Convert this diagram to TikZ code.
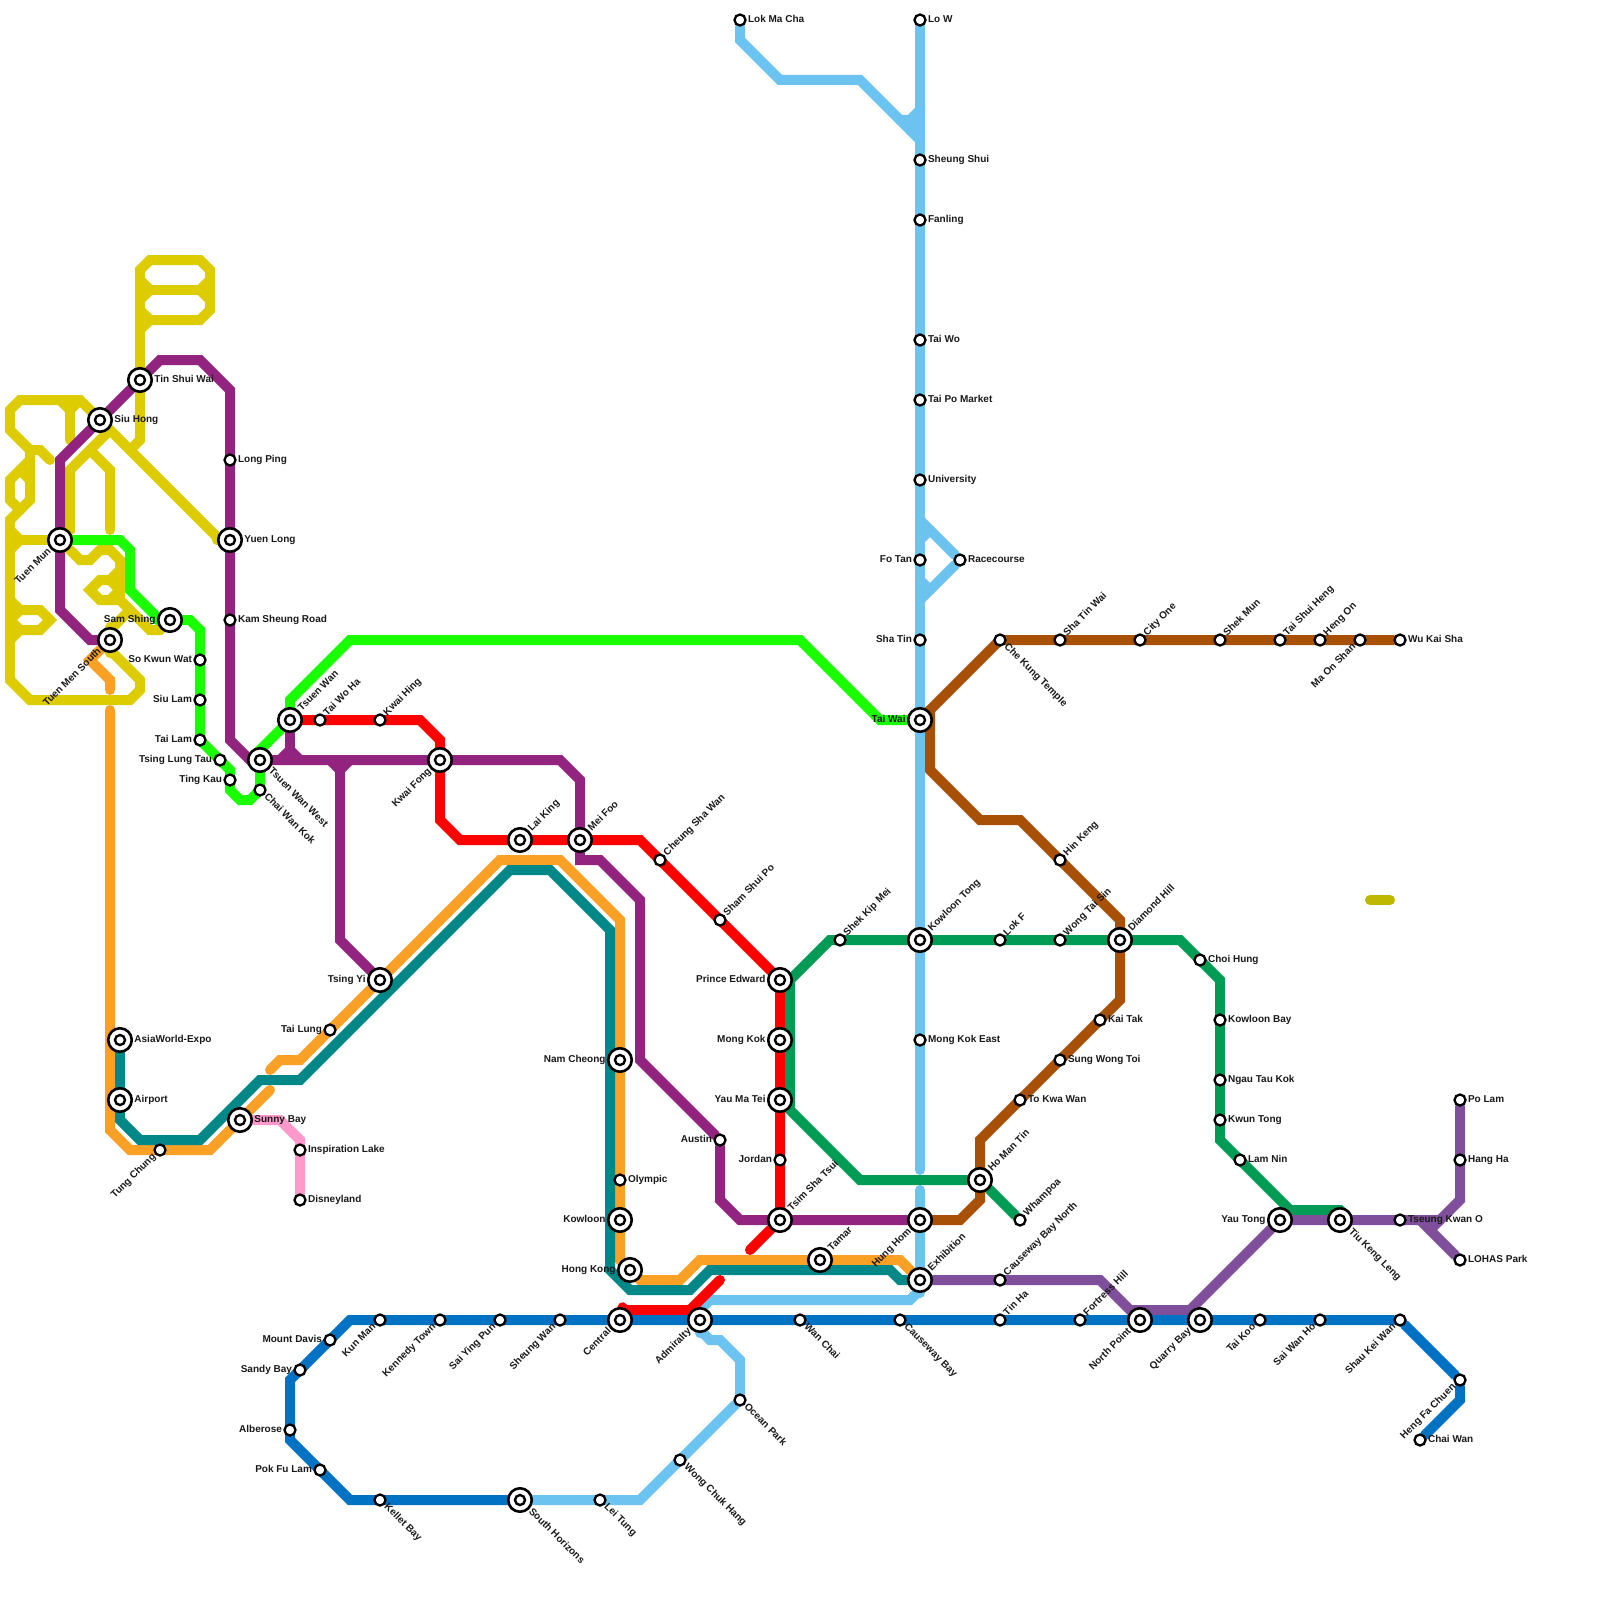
\documentclass[tikz,border=0pt]{standalone}
\usepackage{fontspec}
\setmainfont{Liberation Sans}
\usetikzlibrary{backgrounds}
\definecolor{lnYellow}{HTML}{DDCC00}
\definecolor{lnGreen}{HTML}{1AFF00}
\definecolor{lnPurple}{HTML}{92237E}
\definecolor{lnRed}{HTML}{FF0000}
\definecolor{lnOrange}{HTML}{FAA025}
\definecolor{lnTeal}{HTML}{008888}
\definecolor{lnSky}{HTML}{6CC3F0}
\definecolor{lnBlue}{HTML}{0072C3}
\definecolor{lnPink}{HTML}{FF99CC}
\definecolor{lnKwun}{HTML}{009B55}
\definecolor{lnBrown}{HTML}{A85006}
\definecolor{lnTko}{HTML}{7F4F9B}
\definecolor{lnOlive}{HTML}{BFB800}

\begin{document}
\begin{tikzpicture}[
  x=1pt, y=-1pt,
  mline/.style={line width=10pt, line cap=round, line join=miter},
  stop/.style={circle, draw=black, fill=white, line width=2.3pt, minimum size=11pt, inner sep=0pt},
  hub/.style={circle, draw=black, fill=white, line width=2.6pt, minimum size=23.5pt, inner sep=0pt, path picture={\draw[line width=2.4pt] (path picture bounding box.center) circle (5pt);}},
  lbl/.style={font=\fontsize{10}{12}\selectfont\bfseries, text=black!90, inner sep=1.2pt, text height=7.2pt, text depth=2.2pt},
  lbE/.style={label={[lbl]0:#1}},
  lbW/.style={label={[lbl]180:#1}},
  lbNE/.style={label={[lbl, rotate=45, anchor=west]45:#1}},
  lbSE/.style={label={[lbl, rotate=-45, anchor=west]-45:#1}},
  lbSW/.style={label={[lbl, rotate=45, anchor=east]225:#1}}
]
\useasboundingbox (0,0) rectangle (1600,1600);

\node[hub, lbSW=Tuen Mun] (tuenMun) at (60,540) {};
\node[hub, lbSW=Tuen Men South] (tuenMenSouth) at (110,640) {};
\node[hub, lbE=Siu Hong] (siuHong) at (100,420) {};
\node[hub, lbE=Tin Shui Wai] (tinShuiWai) at (140,380) {};
\node[stop, lbE=Long Ping] (longPing) at (230,460) {};
\node[hub, lbE=Yuen Long] (yuenLong) at (230,540) {};
\node[stop, lbE=Kam Sheung Road] (kamSheung) at (230,620) {};
\node[hub, lbW=Sam Shing] (samShing) at (170,620) {};
\node[stop, lbW=So Kwun Wat] (soKwunWat) at (200,660) {};
\node[stop, lbW=Siu Lam] (siuLam) at (200,700) {};
\node[stop, lbW=Tai Lam] (taiLam) at (200,740) {};
\node[stop, lbW=Tsing Lung Tau] (tsingLungTau) at (220,760) {};
\node[stop, lbW=Ting Kau] (tingKau) at (230,780) {};
\node[stop, lbSE=Chai Wan Kok] (chaiWanKok) at (260,790) {};
\node[hub, lbSE=Tsuen Wan West] (tsuenWanWest) at (260,760) {};
\node[hub, lbNE=Tsuen Wan] (tsuenWan) at (290,720) {};
\node[stop, lbNE=Tai Wo Ha] (taiWoHa) at (320,720) {};
\node[stop, lbNE=Kwai Hing] (kwaiHing) at (380,720) {};
\node[hub, lbSW=Kwai Fong] (kwaiFong) at (440,760) {};
\node[hub, lbNE=Lai King] (laiKing) at (520,840) {};
\node[hub, lbNE=Mei Foo] (meiFoo) at (580,840) {};
\node[stop, lbNE=Cheung Sha Wan] (cheungShaWan) at (660,860) {};
\node[stop, lbNE=Sham Shui Po] (shamShuiPo) at (720,920) {};
\node[hub, lbW=Tsing Yi] (tsingYi) at (380,980) {};
\node[stop, lbW=Tai Lung] (taiLung) at (330,1030) {};
\node[hub, lbE=AsiaWorld-Expo] (asiaWorld) at (120,1040) {};
\node[hub, lbE=Airport] (airport) at (120,1100) {};
\node[stop, lbSW=Tung Chung] (tungChung) at (160,1150) {};
\node[hub, lbE=Sunny Bay] (sunnyBay) at (240,1120) {};
\node[stop, lbE=Inspiration Lake] (inspiration) at (300,1150) {};
\node[stop, lbE=Disneyland] (disneyland) at (300,1200) {};
\node[hub, lbW=Nam Cheong] (namCheong) at (620,1060) {};
\node[stop, lbE=Olympic] (olympic) at (620,1180) {};
\node[hub, lbW=Kowloon] (kowloon) at (620,1220) {};
\node[hub, lbW=Hong Kong] (hongKong) at (630,1270) {};
\node[stop, lbW=Austin] (austin) at (720,1140) {};
\node[hub, lbW=Prince Edward] (princeEdward) at (780,980) {};
\node[hub, lbW=Mong Kok] (mongKok) at (780,1040) {};
\node[hub, lbW=Yau Ma Tei] (yauMaTei) at (780,1100) {};
\node[stop, lbW=Jordan] (jordan) at (780,1160) {};
\node[hub, lbNE=Tsim Sha Tsui] (tsimShaTsui) at (780,1220) {};
\node[hub, lbNE=Tamar] (tamar) at (820,1260) {};
\node[stop, lbNE=Shek Kip Mei] (shekKipMei) at (840,940) {};

\node[stop, lbE=Lok Ma Cha] (lokMaCha) at (740,20) {};
\node[stop, lbE=Lo W] (loW) at (920,20) {};
\node[stop, lbE=Sheung Shui] (sheungShui) at (920,160) {};
\node[stop, lbE=Fanling] (fanling) at (920,220) {};
\node[stop, lbE=Tai Wo] (taiWo) at (920,340) {};
\node[stop, lbE=Tai Po Market] (taiPoMarket) at (920,400) {};
\node[stop, lbE=University] (university) at (920,480) {};
\node[stop, lbW=Fo Tan] (foTan) at (920,560) {};
\node[stop, lbE=Racecourse] (racecourse) at (960,560) {};
\node[stop, lbW=Sha Tin] (shaTin) at (920,640) {};
\node[hub, lbW=Tai Wai] (taiWai) at (920,720) {};
\node[hub, lbNE=Kowloon Tong] (kowloonTong) at (920,940) {};
\node[stop, lbE=Mong Kok East] (mongKokEast) at (920,1040) {};
\node[hub, lbSW=Hung Hom] (hungHom) at (920,1220) {};
\node[hub, lbNE=Exhibition] (exhibition) at (920,1280) {};

\node[stop, lbSE=Che Kung Temple] (cheKung) at (1000,640) {};
\node[stop, lbNE=Sha Tin Wai] (shaTinWai) at (1060,640) {};
\node[stop, lbNE=City One] (cityOne) at (1140,640) {};
\node[stop, lbNE=Shek Mun] (shekMun) at (1220,640) {};
\node[stop, lbNE=Tai Shui Heng] (taiShuiHeng) at (1280,640) {};
\node[stop, lbNE=Heng On] (hengOn) at (1320,640) {};
\node[stop, lbSW=Ma On Shan] (maOnShan) at (1360,640) {};
\node[stop, lbE=Wu Kai Sha] (wuKaiSha) at (1400,640) {};
\node[stop, lbNE=Hin Keng] (hinKeng) at (1060,860) {};
\node[stop, lbNE=Lok F] (lokF) at (1000,940) {};
\node[stop, lbNE=Wong Tai Sin] (wongTaiSin) at (1060,940) {};
\node[hub, lbNE=Diamond Hill] (diamondHill) at (1120,940) {};
\node[stop, lbE=Choi Hung] (choiHung) at (1200,960) {};
\node[stop, lbE=Kowloon Bay] (kowloonBay) at (1220,1020) {};
\node[stop, lbE=Ngau Tau Kok] (ngauTauKok) at (1220,1080) {};
\node[stop, lbE=Kwun Tong] (kwunTong) at (1220,1120) {};
\node[stop, lbE=Lam Nin] (lamNin) at (1240,1160) {};
\node[stop, lbE=Kai Tak] (kaiTak) at (1100,1020) {};
\node[stop, lbE=Sung Wong Toi] (sungWongToi) at (1060,1060) {};
\node[stop, lbE=To Kwa Wan] (toKwaWan) at (1020,1100) {};
\node[hub, lbNE=Ho Man Tin] (hoManTin) at (980,1180) {};
\node[stop, lbNE=Whampoa] (whampoa) at (1020,1220) {};
\node[stop, lbNE=Causeway Bay North] (causewayNorth) at (1000,1280) {};
\node[hub, lbW=Yau Tong] (yauTong) at (1280,1220) {};
\node[hub, lbSE=Tiu Keng Leng] (tiuKengLeng) at (1340,1220) {};
\node[stop, lbE=Tseung Kwan O] (tseungKwanO) at (1400,1220) {};
\node[stop, lbE=Po Lam] (poLam) at (1460,1100) {};
\node[stop, lbE=Hang Ha] (hangHa) at (1460,1160) {};
\node[stop, lbE=LOHAS Park] (lohasPark) at (1460,1260) {};

\node[stop, lbSW=Kun Man] (kunMan) at (380,1320) {};
\node[stop, lbSW=Kennedy Town] (kennedyTown) at (440,1320) {};
\node[stop, lbSW=Sai Ying Pun] (saiYingPun) at (500,1320) {};
\node[stop, lbSW=Sheung Wan] (sheungWan) at (560,1320) {};
\node[hub, lbSW=Central] (central) at (620,1320) {};
\node[hub, lbSW=Admiralty] (admiralty) at (700,1320) {};
\node[stop, lbSE=Wan Chai] (wanChai) at (800,1320) {};
\node[stop, lbSE=Causeway Bay] (causewayBay) at (900,1320) {};
\node[stop, lbNE=Tin Ha] (tinHa) at (1000,1320) {};
\node[stop, lbNE=Fortress Hill] (fortressHill) at (1080,1320) {};
\node[hub, lbSW=North Point] (northPoint) at (1140,1320) {};
\node[hub, lbSW=Quarry Bay] (quarryBay) at (1200,1320) {};
\node[stop, lbSW=Tai Koo] (taiKoo) at (1260,1320) {};
\node[stop, lbSW=Sai Wan Ho] (saiWanHo) at (1320,1320) {};
\node[stop, lbSW=Shau Kei Wan] (shauKeiWan) at (1400,1320) {};
\node[stop, lbSW=Heng Fa Chuen] (hengFaChuen) at (1460,1380) {};
\node[stop, lbE=Chai Wan] (chaiWan) at (1420,1440) {};
\node[stop, lbW=Mount Davis] (mountDavis) at (330,1340) {};
\node[stop, lbW=Sandy Bay] (sandyBay) at (300,1370) {};
\node[stop, lbW=Alberose] (alberose) at (290,1430) {};
\node[stop, lbW=Pok Fu Lam] (pokFuLam) at (320,1470) {};
\node[stop, lbSE=Kellet Bay] (kelletBay) at (380,1500) {};
\node[hub, lbSE=South Horizons] (southHorizons) at (520,1500) {};
\node[stop, lbSE=Lei Tung] (leiTung) at (600,1500) {};
\node[stop, lbSE=Wong Chuk Hang] (wongChukHang) at (680,1460) {};
\node[stop, lbSE=Ocean Park] (oceanPark) at (740,1400) {};

\coordinate (strayA) at (1370,900);
\coordinate (strayB) at (1390,900);
\coordinate (orangeEndA) at (110,690);
\coordinate (orangeEndB) at (110,710);
\coordinate (orangeEndC) at (270,1090);
\coordinate (orangeEndD) at (270,1070);
\coordinate (redEndA) at (750,1250);
\coordinate (redEndB) at (720,1280);
\coordinate (skyEndA) at (920,1170);
\coordinate (skyEndB) at (920,1190);

\begin{pgfonlayer}{background}
  \draw[mline, draw=lnYellow] (130,450) -- (140,440) -- (tinShuiWai) -- (140,270) -- (150,260) -- (200,260) -- (210,270) -- (210,310) -- (200,320) -- (150,320) -- (140,330);
  \draw[mline, draw=lnYellow] (140,280) -- (150,290) -- (140,300);
  \draw[mline, draw=lnYellow] (140,310) -- (150,320);
  \draw[mline, draw=lnYellow] (210,280) -- (200,290) -- (210,300);
  \draw[mline, draw=lnYellow] (150,290) -- (200,290);
  \draw[mline, draw=lnYellow] (yuenLong) -- (220,540) -- (80,400) -- (20,400) -- (10,410) -- (10,430) -- (30,450) -- (40,450) -- (50,460);
  \draw[mline, draw=lnYellow] (60,400) -- (70,410) -- (80,400);
  \draw[mline, draw=lnYellow] (70,410) -- (70,440);
  \draw[mline, draw=lnYellow] (30,450) -- (30,500) -- (10,520) -- (10,680) -- (30,700) -- (130,700) -- (140,690) -- (140,680) -- (110,650) -- (tuenMenSouth);
  \draw[mline, draw=lnYellow] (30,460) -- (10,480) -- (10,500) -- (20,510);
  \draw[mline, draw=lnYellow] (20,470) -- (30,480);
  \draw[mline, draw=lnYellow] (tuenMun) -- (70,530) -- (70,470) -- (110,430);
  \draw[mline, draw=lnYellow] (90,450) -- (110,470) -- (110,530);
  \draw[mline, draw=lnYellow] (10,530) -- (20,540) -- (10,550);
  \draw[mline, draw=lnYellow] (20,540) -- (tuenMun);
  \draw[mline, draw=lnYellow] (tuenMun) -- (80,560) -- (90,560) -- (100,550) -- (110,550) -- (120,560) -- (120,600) -- (150,630) -- (160,630) -- (samShing);
  \draw[mline, draw=lnYellow] (120,570) -- (110,580) -- (100,580) -- (90,590) -- (100,600) -- (120,600);
  \draw[mline, draw=lnYellow] (110,580) -- (120,590) -- (110,600);
  \draw[mline, draw=lnYellow] (130,610) -- (110,630) -- (tuenMenSouth);
  \draw[mline, draw=lnYellow] (10,600) -- (20,610) -- (40,610) -- (50,620) -- (40,630) -- (20,630) -- (10,640);
  \draw[mline, draw=lnYellow] (20,610) -- (10,620);
  \draw[mline, draw=lnYellow] (10,620) -- (20,630);

  \draw[mline, draw=lnOrange] (tuenMenSouth) -- (90,660) -- (110,680) -- (orangeEndA);
  \draw[mline, draw=lnOrange] (orangeEndB) -- (110,1130) -- (130,1150) -- (210,1150) -- (sunnyBay) -- (orangeEndC);
  \draw[mline, draw=lnOrange] (orangeEndD) -- (280,1060) -- (300,1060) -- (tsingYi) -- (500,860) -- (560,860) -- (620,920) -- (namCheong) -- (kowloon) -- (620,1260) -- (hongKong) -- (640,1280) -- (680,1280) -- (700,1260) -- (tamar) -- (900,1260) -- (exhibition);

  \draw[mline, draw=lnTeal] (asiaWorld) -- (airport) -- (120,1120) -- (140,1140) -- (200,1140) -- (260,1080) -- (300,1080) -- (510,870) -- (550,870) -- (610,930) -- (610,1270) -- (630,1290) -- (690,1290) -- (710,1270) -- (890,1270) -- (900,1280) -- (exhibition);

  \draw[mline, draw=lnPink] (sunnyBay) -- (280,1120) -- (300,1140) -- (disneyland);

  \draw[mline, draw=lnSky] (lokMaCha) -- (740,40) -- (780,80) -- (860,80) -- (920,140);
  \draw[mline, draw=lnSky] (900,120) -- (910,120) -- (920,110);
  \draw[mline, draw=lnSky] (910,120) -- (920,120);
  \draw[mline, draw=lnSky] (910,130) -- (920,130);
  \draw[mline, draw=lnSky] (loW) -- (skyEndA);
  \draw[mline, draw=lnSky] (skyEndB) -- (exhibition) -- (920,1290) -- (910,1300) -- (710,1300) -- (700,1310) -- (admiralty) -- (700,1330) -- (710,1340) -- (720,1340) -- (740,1360) -- (oceanPark) -- (640,1500) -- (southHorizons);
  \draw[mline, draw=lnSky] (920,520) -- (racecourse) -- (920,600);
  \draw[mline, draw=lnSky] (920,540) -- (930,530);
  \draw[mline, draw=lnSky] (920,580) -- (930,590);

  \draw[mline, draw=lnRed] (central) -- (622,1310) -- (690,1310) -- (redEndB);
  \draw[mline, draw=lnRed] (tsuenWan) -- (420,720) -- (440,740) -- (440,820) -- (460,840) -- (meiFoo) -- (640,840) -- (princeEdward) -- (tsimShaTsui) -- (redEndA);

  \draw[mline, draw=lnGreen] (tuenMun) -- (120,540) -- (130,550) -- (130,590) -- (160,620) -- (samShing) -- (190,620) -- (200,630) -- (200,740) -- (230,770) -- (230,790) -- (240,800) -- (250,800) -- (260,790) -- (260,750) -- (tsuenWan) -- (290,700) -- (350,640) -- (800,640) -- (880,720) -- (taiWai);

  \draw[mline, draw=lnPurple] (tuenMenSouth) -- (90,640) -- (60,610) -- (tuenMun) -- (60,460) -- (siuHong) -- (tinShuiWai) -- (160,360) -- (200,360) -- (230,390) -- (230,740) -- (250,760) -- (560,760) -- (580,780) -- (meiFoo) -- (580,860) -- (600,860) -- (640,900) -- (640,1060) -- (austin) -- (720,1200) -- (740,1220) -- (hungHom);
  \draw[mline, draw=lnPurple] (tsuenWan) -- (290,750);
  \draw[mline, draw=lnPurple] (280,760) -- (290,750) -- (300,760);
  \draw[mline, draw=lnPurple] (330,760) -- (340,770) -- (350,760);
  \draw[mline, draw=lnPurple] (340,770) -- (340,940) -- (tsingYi);

  \draw[mline, draw=lnKwun] (whampoa) -- (hoManTin) -- (860,1180) -- (790,1110) -- (790,980) -- (830,940) -- (1180,940) -- (1220,980) -- (1220,1140) -- (1290,1210) -- (1340,1210) -- (1350,1220) -- (tiuKengLeng);

  \draw[mline, draw=lnBrown] (hungHom) -- (960,1220) -- (980,1200) -- (980,1140) -- (1120,1000) -- (1120,920) -- (1020,820) -- (980,820) -- (930,770) -- (930,710) -- (1000,640) -- (wuKaiSha);
  \draw[mline, draw=lnBrown] (taiWai) -- (930,710);

  \draw[mline, draw=lnTko] (exhibition) -- (1100,1280) -- (1130,1310) -- (1190,1310) -- (yauTong) -- (1440,1220) -- (1460,1200) -- (poLam);
  \draw[mline, draw=lnTko] (1420,1220) -- (lohasPark);
  \draw[mline, draw=lnTko] (1440,1220) -- (1430,1230);

  \draw[mline, draw=lnBlue] (southHorizons) -- (350,1500) -- (290,1440) -- (290,1380) -- (350,1320) -- (shauKeiWan) -- (hengFaChuen) -- (1460,1400) -- (chaiWan);

  \draw[mline, draw=lnOlive] (strayA) -- (strayB);
\end{pgfonlayer}

\end{tikzpicture}
\end{document}
